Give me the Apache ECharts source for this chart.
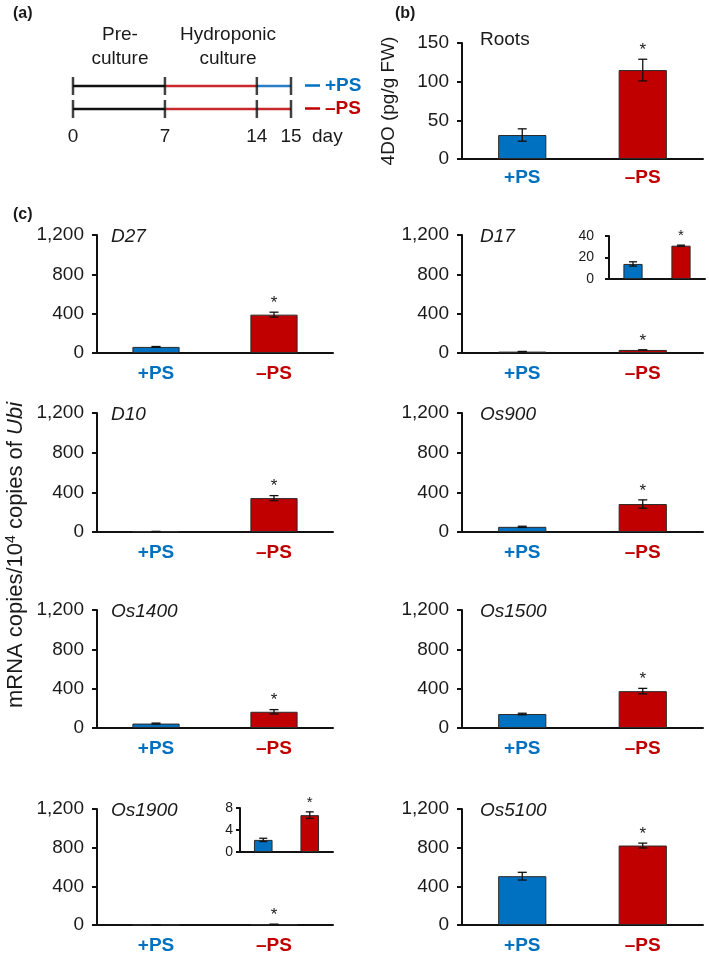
<!DOCTYPE html>
<html><head><meta charset="utf-8">
<script src="https://cdn.jsdelivr.net/npm/echarts@6/dist/echarts.min.js"></script>
<style>html,body{margin:0;padding:0;background:#fff}#c{width:709px;height:960px}</style>
</head><body><div id="c"></div>
<script>
// ---------- data ----------
const categories = ['+PS', '–PS'];
const significant = [false, true];

// (a) timeline
const timelineDays = [0, 7, 14, 15];
const plusPhases = ['pre', 'hydro', 'plusPS'];
const minusPhases = ['pre', 'hydro', 'minusPS'];

// (b) roots 4DO
const rootsMean = [31, 115];
const rootsErr = [8, 14];
const rootsTicks = [0, 50, 100, 150];

// (c) gene expression
const geneNames = ['D27', 'D17', 'D10', 'Os900', 'Os1400', 'Os1500', 'Os1900', 'Os5100'];
const d27Mean = [62, 390];     const d27Err = [4, 25];
const d17Mean = [14, 31];      const d17Err = [2, 0.5];
const d10Mean = [5, 342];      const d10Err = [1, 25];
const os900Mean = [52, 282];   const os900Err = [6, 42];
const os1400Mean = [45, 165];  const os1400Err = [5, 22];
const os1500Mean = [142, 375]; const os1500Err = [8, 28];
const os1900Mean = [2.2, 6.7]; const os1900Err = [0.3, 0.6];
const os5100Mean = [505, 822]; const os5100Err = [40, 25];
const mainTicks = [0, 400, 800, 1200];
const d17InsetTicks = [0, 20, 40];
const os1900InsetTicks = [0, 4, 8];

// ---------- build ----------
const BLUE = '#0070C0', RED = '#C00000', INK = '#1a1a1a';
const FONT = '"Liberation Sans", Arial, sans-serif';
const grids = [], xAxes = [], yAxes = [], series = [], graphics = [];
const comma = v => String(v).replace(/\B(?=(\d{3})+(?!\d))/g, ',');

function errSeries(g, mean, err, capW, starSize) {
  return {
    type: 'custom', xAxisIndex: g, yAxisIndex: g, silent: true, z: 5,
    data: mean.map((m, i) => [i, m, err[i], significant[i] ? 1 : 0]),
    renderItem(params, api) {
      const x = api.value(0), m = api.value(1), e = api.value(2);
      const hi = api.coord([x, m + e]), lo = api.coord([x, m - e]);
      const st = { stroke: '#111', lineWidth: 1.3 };
      const ch = [
        { type: 'line', shape: { x1: hi[0], y1: hi[1], x2: lo[0], y2: lo[1] }, style: st },
        { type: 'line', shape: { x1: hi[0] - capW / 2, y1: hi[1], x2: hi[0] + capW / 2, y2: hi[1] }, style: st },
        { type: 'line', shape: { x1: lo[0] - capW / 2, y1: lo[1], x2: lo[0] + capW / 2, y2: lo[1] }, style: st }
      ];
      if (api.value(3)) {
        ch.push({ type: 'text', style: { text: '*', x: hi[0], y: hi[1] - 9, align: 'center', verticalAlign: 'middle',
          fontSize: starSize, fontFamily: FONT, fill: INK } });
      }
      return { type: 'group', children: ch };
    }
  };
}

function addPanel(rect, ticks, mean, err, opts) {
  const g = grids.length;
  grids.push({ left: rect[0], top: rect[1], width: rect[2], height: rect[3] });
  xAxes.push({
    type: 'category', gridIndex: g,
    data: categories.map((c, i) => ({ value: c, textStyle: { color: i ? RED : BLUE } })),
    axisLine: { lineStyle: { color: '#111', width: 2 } },
    axisTick: { length: 5, lineStyle: { color: '#111', width: 2 } },
    axisLabel: opts.inset ? { show: false } :
      { fontSize: 19, fontWeight: 'bold', fontFamily: FONT, margin: opts.xMargin || 11 }
  });
  const y = {
    type: 'value', gridIndex: g, min: ticks[0], max: ticks[ticks.length - 1], interval: ticks[1] - ticks[0],
    axisLine: { show: true, lineStyle: { color: '#111', width: 2 } },
    axisTick: { show: true, length: opts.inset ? 4 : 5, lineStyle: { color: '#111', width: 2 } },
    splitLine: { show: false },
    axisLabel: { fontSize: opts.inset ? 14 : 19, color: INK, fontFamily: FONT, margin: opts.yMargin || 13, formatter: comma }
  };
  if (opts.name) {
    Object.assign(y, { name: opts.name, nameLocation: 'middle', nameGap: opts.nameGap,
      nameTextStyle: { fontSize: 19, color: INK, fontFamily: FONT } });
  }
  yAxes.push(y);
  series.push({
    type: 'bar', xAxisIndex: g, yAxisIndex: g, barWidth: '40%', silent: true,
    itemStyle: { borderColor: '#2a2a2a', borderWidth: 1 },
    data: mean.map((v, i) => ({ value: v, itemStyle: { color: i ? RED : BLUE } }))
  });
  series.push(errSeries(g, mean, err, opts.inset ? 8 : 9, opts.inset ? 15 : 17));
}

// ---- (a) timeline ----
const stretch = d => d <= 14 ? d : 14 + (d - 14) * 2.6;   // schematic (not to scale) last day
const ga = grids.length;
grids.push({ left: 73, top: 86, width: 218, height: 23 });
xAxes.push({
  type: 'value', gridIndex: ga, min: 0, max: stretch(timelineDays[timelineDays.length - 1]),
  axisLine: { show: false }, axisTick: { show: false }, splitLine: { show: false },
  axisLabel: {
    customValues: timelineDays.map(stretch), fontSize: 19, color: INK, fontFamily: FONT, margin: 18,
    formatter: v => { let best = 0; timelineDays.forEach((d, i) => { if (Math.abs(stretch(d) - v) < Math.abs(stretch(timelineDays[best]) - v)) best = i; }); return String(timelineDays[best]); }
  }
});
yAxes.push({ type: 'value', gridIndex: ga, min: 0, max: 1, show: false });
const phaseColor = { pre: '#111', hydro: '#c8282b', plusPS: '#2a7cc7', minusPS: '#c8282b' };
function timelineSeries(name, phases, row, color) {
  return {
    type: 'custom', name, xAxisIndex: ga, yAxisIndex: ga, itemStyle: { color }, silent: true,
    data: phases.map((p, i) => [stretch(timelineDays[i]), stretch(timelineDays[i + 1]), row, i]),
    renderItem(params, api) {
      const a = api.coord([api.value(0), api.value(2)]), b = api.coord([api.value(1), api.value(2)]);
      return { type: 'line', shape: { x1: a[0], y1: a[1], x2: b[0], y2: b[1] },
        style: { stroke: phaseColor[phases[api.value(3)]], lineWidth: 2.6 } };
    }
  };
}
series.push(timelineSeries('+PS', plusPhases, 1, BLUE));
series.push(timelineSeries('–PS', minusPhases, 0, RED));
series.push({
  type: 'scatter', xAxisIndex: ga, yAxisIndex: ga, symbol: 'rect', symbolSize: [2.5, 18], silent: true, z: 6,
  itemStyle: { color: '#111' },
  data: timelineDays.flatMap(d => [[stretch(d), 1], [stretch(d), 0]])
});

// ---- (b) ----
addPanel([462, 43, 241, 116], rootsTicks, rootsMean, rootsErr, { name: '4DO (pg/g FW)', nameGap: 64, xMargin: 9 });

// ---- (c) ----
const colLeft = [97, 462], colWidth = [236, 241];
const rowTop = [235, 413, 610, 809], rowH = [118, 119, 118, 116];
const geneMeans = [d27Mean, d17Mean, d10Mean, os900Mean, os1400Mean, os1500Mean, os1900Mean, os5100Mean];
const geneErrs = [d27Err, d17Err, d10Err, os900Err, os1400Err, os1500Err, os1900Err, os5100Err];
geneNames.forEach((gname, k) => {
  const c = k % 2, r = Math.floor(k / 2);
  addPanel([colLeft[c], rowTop[r], colWidth[c], rowH[r]], mainTicks, geneMeans[k], geneErrs[k], {});
  graphics.push({ type: 'text', x: colLeft[c] + (c ? 18 : 14), y: rowTop[r] + 2, silent: true,
    style: { text: gname, fontSize: 19, fontStyle: 'italic', fontFamily: FONT, fill: INK, align: 'left', verticalAlign: 'middle' } });
});
// insets
addPanel([609, 236, 96, 43], d17InsetTicks, d17Mean, d17Err, { inset: true, yMargin: 15 });
addPanel([240, 808, 93, 44], os1900InsetTicks, os1900Mean, os1900Err, { inset: true, yMargin: 7 });

// ---- text ----
const txt = (text, x, y, o = {}) => ({ type: 'text', x, y, silent: true,
  style: { text, fontSize: o.size || 19, fontFamily: FONT, fontWeight: o.bold ? 'bold' : 'normal', fill: INK,
    align: o.align || 'left', verticalAlign: 'middle', lineHeight: o.lh } });
graphics.push(txt('(a)', 13, 14, { bold: true, size: 16 }));
graphics.push(txt('(b)', 395, 14, { bold: true, size: 16 }));
graphics.push(txt('(c)', 13, 215, { bold: true, size: 16 }));
graphics.push(txt('Pre-\nculture', 120, 47, { align: 'center', lh: 24 }));
graphics.push(txt('Hydroponic\nculture', 228, 47, { align: 'center', lh: 24 }));
graphics.push(txt('day', 312, 137));
graphics.push(txt('Roots', 480, 40));
graphics.push({ type: 'text', x: 16, y: 555, rotation: Math.PI / 2, silent: true,
  style: { text: 'mRNA copies/10{sup|4} copies of {it|Ubi}', fontSize: 22, fontFamily: FONT, fill: INK,
    align: 'center', verticalAlign: 'middle',
    rich: { sup: { fontSize: 14, fontFamily: FONT, fill: INK, verticalAlign: 'top', padding: [0, 0, 9, 0] },
            it: { fontSize: 22, fontStyle: 'italic', fontFamily: FONT, fill: INK } } } });

const legendBase = { icon: 'rect', itemWidth: 15, itemHeight: 2.5, left: 305, padding: 0, selectedMode: false,
  textStyle: { fontSize: 19, fontWeight: 'bold', fontFamily: FONT } };

const chart = echarts.init(document.getElementById('c'), null, { renderer: 'canvas' });
chart.setOption({
  animation: false,
  backgroundColor: '#fff',
  grid: grids, xAxis: xAxes, yAxis: yAxes, series,
  legend: [
    Object.assign({}, legendBase, { top: 76, data: [{ name: '+PS', textStyle: { color: BLUE } }] }),
    Object.assign({}, legendBase, { top: 99, data: [{ name: '–PS', textStyle: { color: RED } }] })
  ],
  graphic: graphics
});
</script></body></html>
